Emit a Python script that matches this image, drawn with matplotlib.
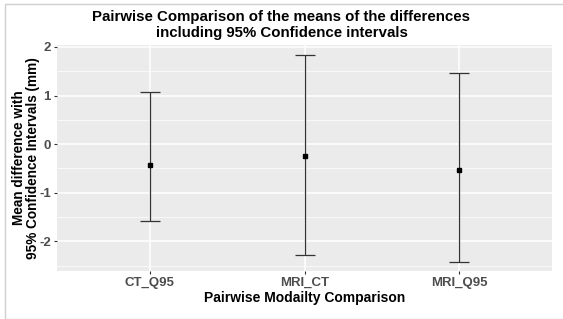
import matplotlib
matplotlib.use("Agg")
import matplotlib.pyplot as plt
from matplotlib.patches import Rectangle

categories = ["CT_Q95", "MRI_CT", "MRI_Q95"]
means = [-0.42, -0.24, -0.53]
lower = [-1.59, -2.28, -2.43]
upper = [1.08, 1.83, 1.46]

plt.rcParams['font.family'] = ['Liberation Sans', 'DejaVu Sans']
plt.rcParams['axes.unicode_minus'] = False

fig = plt.figure(figsize=(5.63, 3.19), dpi=100)
ax = fig.add_axes([57/563, 1-271/319, (552-57)/563, (271-45)/319])
ax.set_facecolor("#EBEBEB")

x = list(range(1, len(categories) + 1))
yerr = [[m - l for m, l in zip(means, lower)], [u - m for m, u in zip(means, upper)]]
ax.errorbar(x, means, yerr=yerr, fmt='s', color='black', ecolor='#333333',
            elinewidth=0.9, capsize=7.5, capthick=0.9, markersize=2.2, zorder=3)

ax.set_xlim(0.4, 3.6)
ax.set_ylim(-2.61, 2.04)
ax.set_xticks(x)
ax.set_xticklabels(categories)
ax.set_yticks([-2, -1, 0, 1, 2])
ax.set_yticks([-2.5, -1.5, -0.5, 0.5, 1.5], minor=True)
ax.grid(True, which='major', color='white', linewidth=1.1)
ax.grid(True, which='minor', axis='y', color='white', linewidth=0.5)
ax.set_axisbelow(True)
for s in ax.spines.values():
    s.set_visible(False)
ax.tick_params(axis='both', which='major', length=2.5, color='#333333', labelcolor='#4D4D4D',
               labelsize=9.5, pad=2)
ax.tick_params(axis='y', which='minor', length=0)
for lab in ax.get_xticklabels() + ax.get_yticklabels():
    lab.set_fontweight('bold')

ax.set_xlabel("Pairwise Modailty Comparison", fontsize=10, fontweight='bold', labelpad=1)
fig.text(26/563, 1 - 158/319, "Mean difference with\n95% Confidence Intervals (mm)", rotation=90,
         ha='center', va='center', fontsize=9.8, fontweight='bold', linespacing=1.0,
         multialignment='center')
fig.text(0.5, 1 - 25/319, "Pairwise Comparison of the means of the differences\nincluding 95% Confidence intervals",
         ha='center', va='center', fontsize=10.8, fontweight='bold', linespacing=1.2)

fig.patches.append(Rectangle((5/563, 0), 1, 1 - 4/319, transform=fig.transFigure,
                             fill=False, edgecolor='#D0D0D0', linewidth=1))

fig.savefig("out.png", dpi=100)
